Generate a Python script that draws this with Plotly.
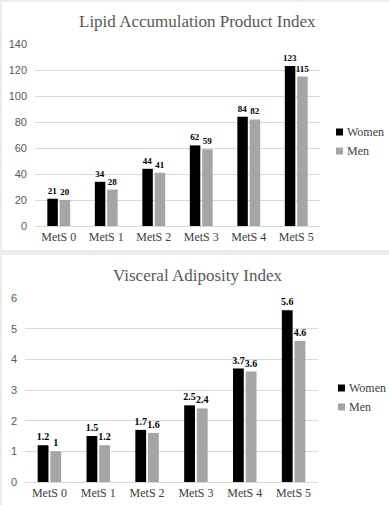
import plotly.graph_objects as go

categories = ["MetS 0", "MetS 1", "MetS 2", "MetS 3", "MetS 4", "MetS 5"]
lap_women = [21, 34, 44, 62, 84, 123]
lap_men = [20, 28, 41, 59, 82, 115]
vai_women = [1.2, 1.5, 1.7, 2.5, 3.7, 5.6]
vai_men = [1, 1.2, 1.6, 2.4, 3.6, 4.6]
series_names = ["Women", "Men"]
title_top = "Lipid Accumulation Product Index"
title_bottom = "Visceral Adiposity Index"

W, H = 389, 505
BLACK = "#000000"
GRAY = "#a5a5a5"
SERIF = "Liberation Serif"
SANS = "Liberation Sans"

def px(x):
    return x / W

def py(y):
    return (H - y) / H

fig = go.Figure()
panels = [
    ((lap_women, lap_men), "x", "y", 9),
    ((vai_women, vai_men), "x2", "y2", 10),
]
for (women, men), xa, ya, fs in panels:
    label_font = dict(family=SERIF, size=fs, color="#000000", weight="bold")
    for vals, name, color in [(women, series_names[0], BLACK), (men, series_names[1], GRAY)]:
        fig.add_trace(go.Bar(x=categories, y=vals, name=name, marker=dict(color=color, line=dict(width=0)),
                             text=[str(v) for v in vals], textposition="outside", textfont=label_font,
                             constraintext="none", cliponaxis=False, xaxis=xa, yaxis=ya,
                             showlegend=False, hoverinfo="skip"))

grid = "#d9d9d9"
xcommon = dict(showgrid=False, showline=True, linecolor=grid, linewidth=1, ticks="", automargin=False,
               tickfont=dict(family=SERIF, size=12, color="#404040"), fixedrange=True)
ycommon = dict(showgrid=True, gridcolor=grid, gridwidth=1, showline=False, zeroline=False, ticks="",
               automargin=False, ticklabelstandoff=7,
               tickfont=dict(family=SANS, size=11, color="#595959"), fixedrange=True)

shapes = [
    dict(type="rect", xref="paper", yref="paper", x0=px(2), x1=1, y0=py(250), y1=py(2),
         fillcolor="white", line=dict(width=0), layer="below"),
    dict(type="rect", xref="paper", yref="paper", x0=px(2), x1=1, y0=0, y1=py(255),
         fillcolor="white", line=dict(width=0), layer="below"),
]
annotations = [
    dict(text=title_top, xref="paper", yref="paper", x=px(197), y=py(21), showarrow=False,
         xanchor="center", yanchor="middle", font=dict(family=SERIF, size=17, color="#595959")),
    dict(text=title_bottom, xref="paper", yref="paper", x=px(197), y=py(275), showarrow=False,
         xanchor="center", yanchor="middle", font=dict(family=SERIF, size=17, color="#595959")),
]
# legends (manual)
legend_pos = [(336, 132), (338, 388)]
for lx, ly in legend_pos:
    for i, (name, color) in enumerate([(series_names[0], BLACK), (series_names[1], GRAY)]):
        yy = ly + i * 19
        shapes.append(dict(type="rect", xref="paper", yref="paper", x0=px(lx), x1=px(lx + 7),
                           y0=py(yy + 3.5), y1=py(yy - 3.5), fillcolor=color, line=dict(width=0)))
        annotations.append(dict(text=name, xref="paper", yref="paper", x=px(lx + 9), y=py(yy),
                                showarrow=False, xanchor="left", yanchor="middle",
                                font=dict(family=SERIF, size=12, color="#404040")))

fig.update_layout(
    width=W, height=H, margin=dict(l=0, r=0, t=0, b=0, pad=0, autoexpand=False),
    paper_bgcolor="#ececec", plot_bgcolor="white", showlegend=False,
    barmode="group", bargap=0.48, bargroupgap=0.15,
    hovermode=False,
    xaxis=dict(domain=[px(35), px(320)], anchor="y", **xcommon),
    yaxis=dict(domain=[py(226), py(44)], range=[0, 140], dtick=20, anchor="x", **ycommon),
    xaxis2=dict(domain=[px(25), px(318)], anchor="y2", **xcommon),
    yaxis2=dict(domain=[py(482), py(298)], range=[0, 6], dtick=1, anchor="x2", **ycommon),
    shapes=shapes,
    annotations=annotations,
)

post = ("document.documentElement.style.margin='0';document.body.style.margin='0';"
        "document.body.style.overflow='hidden';"
        "var d=document.getElementById('{plot_id}');d.style.position='fixed';d.style.left='0';d.style.top='0';")

fig.write_html("out.html", config={"displayModeBar": False, "staticPlot": True}, post_script=post)
